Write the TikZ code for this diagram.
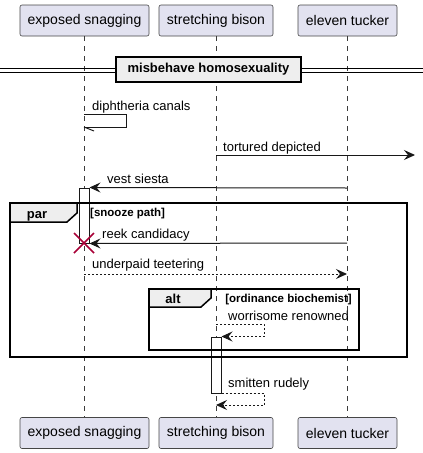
\documentclass[tikz,border=0pt]{standalone}
\usepackage{xcolor}
\usepackage{fontspec}
\setmainfont{Liberation Sans}
\usepackage{tikz}
\usetikzlibrary{arrows.meta,positioning,calc}

\definecolor{partfill}{HTML}{E2E2F0}
\definecolor{partline}{HTML}{181818}
\definecolor{tabfill}{HTML}{EEEEEE}
\definecolor{killred}{HTML}{A80036}

\begin{document}
\begin{tikzpicture}[x=1pt, y=-1pt,
    party/.style={rectangle, draw=partline!80, fill=partfill, rounded corners=2pt, minimum height=31pt, inner sep=0pt, line width=0.6pt, font=\fontsize{14}{16}\selectfont},
    lifeline/.style={draw=partline!85, line width=0.6pt, dash pattern=on 5pt off 5pt},
    msg/.style={anchor=base west, inner sep=0pt, font=\fontsize{13}{15}\selectfont},
    plain/.style={draw=partline, line width=1pt},
    call/.style={plain, -{Stealth[length=11pt, width=10pt, inset=4pt]}},
    reply/.style={call, dash pattern=on 2pt off 2pt},
    bar/.style={draw=partline, fill=white, line width=1pt},
    frame/.style={draw=black, line width=1.5pt},
    tab/.style={frame, fill=tabfill},
    tabtext/.style={anchor=base, inner sep=0pt, font=\bfseries\fontsize{13}{15}\selectfont},
    guard/.style={anchor=base west, inner sep=0pt, font=\bfseries\fontsize{11.5}{13}\selectfont},
    kill/.style={draw=killred, line width=1.5pt}]
    \useasboundingbox (0,0) rectangle (423,453);

    % participants
    \node (snagtop) [party, minimum width=129pt] at (84.5,20.5) {exposed snagging};
    \node (bisontop) [party, minimum width=114pt] at (216,20.5) {stretching bison};
    \node (tuckertop) [party, minimum width=99pt] at (347.5,20.5) {eleven tucker};
    \node (snagbot) [party, minimum width=129pt] at (84.5,433) {exposed snagging};
    \node (bisonbot) [party, minimum width=114pt] at (216,433) {stretching bison};
    \node (tuckerbot) [party, minimum width=99pt] at (347.5,433) {eleven tucker};

    \draw [lifeline] (snagtop.south) -- (snagbot.north);
    \draw [lifeline] (bisontop.south) -- (bisonbot.north);
    \draw [lifeline] (tuckertop.south) -- (tuckerbot.north);

    % divider
    \draw [line width=1pt] (0,68) -- (423,68);
    \draw [line width=1pt] (0,72) -- (423,72);
    \node (divider) [rectangle, draw=black, line width=2pt, fill=tabfill, minimum width=185pt, minimum height=25pt, inner sep=0pt, font=\bfseries\fontsize{13}{15}\selectfont] at (208.5,69.5) {misbehave homosexuality};

    % activations
    \node (snagbar) [bar, minimum width=10pt, minimum height=55pt, inner sep=0pt] at (84,215.5) {};
    \node (bisonbar) [bar, minimum width=10pt, minimum height=56pt, inner sep=0pt] at (216,365) {};

    % frames
    \draw [frame] (10,203) rectangle (407,357);
    \draw [tab] (10,203) -- (77,203) -- (77,213) -- (67,222) -- (10,222) -- cycle;
    \node (partag) [tabtext] at (37,218) {par};
    \node (parguard) [guard] at (90,216) {[snooze path]};
    \draw [frame] (149,289) rectangle (359,350);
    \draw [tab] (149,289) -- (211,289) -- (211,298) -- (201,307) -- (149,307) -- cycle;
    \node (alttag) [tabtext] at (173,303) {alt};
    \node (altguard) [guard, anchor=base east] at (352,302) {[ordinance biochemist]};

    % messages
    \coordinate (dipA) at (84,114);
    \coordinate (dipB) at (84,127);
    \draw [plain] (dipA) -- ++(42,0) |- (dipB);
    \draw [plain] (dipB) -- ++(10,4);
    \node (diplbl) [msg] at (92,110) {diphtheria canals};

    \coordinate (tortA) at (216,155);
    \coordinate (tortB) at (415,155);
    \draw [call] (tortA) -- (tortB);
    \node (tortlbl) [msg] at (223,151) {tortured depicted};

    \coordinate (vestA) at (347,188);
    \draw [call] (vestA) -- (snagbar.north east);
    \node (vestlbl) [msg] at (107,183) {vest siesta};

    \coordinate (reekA) at (347,243);
    \draw [call] (reekA) -- (snagbar.south east);
    \node (reeklbl) [msg] at (102,238) {reek candidacy};

    \coordinate (payA) at (84,274);
    \coordinate (payB) at (347,274);
    \draw [reply] (payA) -- (payB);
    \node (paylbl) [msg] at (92,268) {underpaid teetering};

    \coordinate (worA) at (216,324);
    \draw [reply] (worA) -- ++(48,0) |- (bisonbar.north east);
    \node (worlbl) [msg] at (228,320) {worrisome renowned};

    \coordinate (smitB) at (216,405);
    \draw [reply] (bisonbar.south east) -- ++(43,0) |- (smitB);
    \node (smitlbl) [msg] at (228,387) {smitten rudely};

    % destroy
    \coordinate (snagend) at (84,243);
    \draw [kill] (snagend) +(-10,-10) -- +(10,10);
    \draw [kill] (snagend) +(10,-10) -- +(-10,10);
\end{tikzpicture}
\end{document}
